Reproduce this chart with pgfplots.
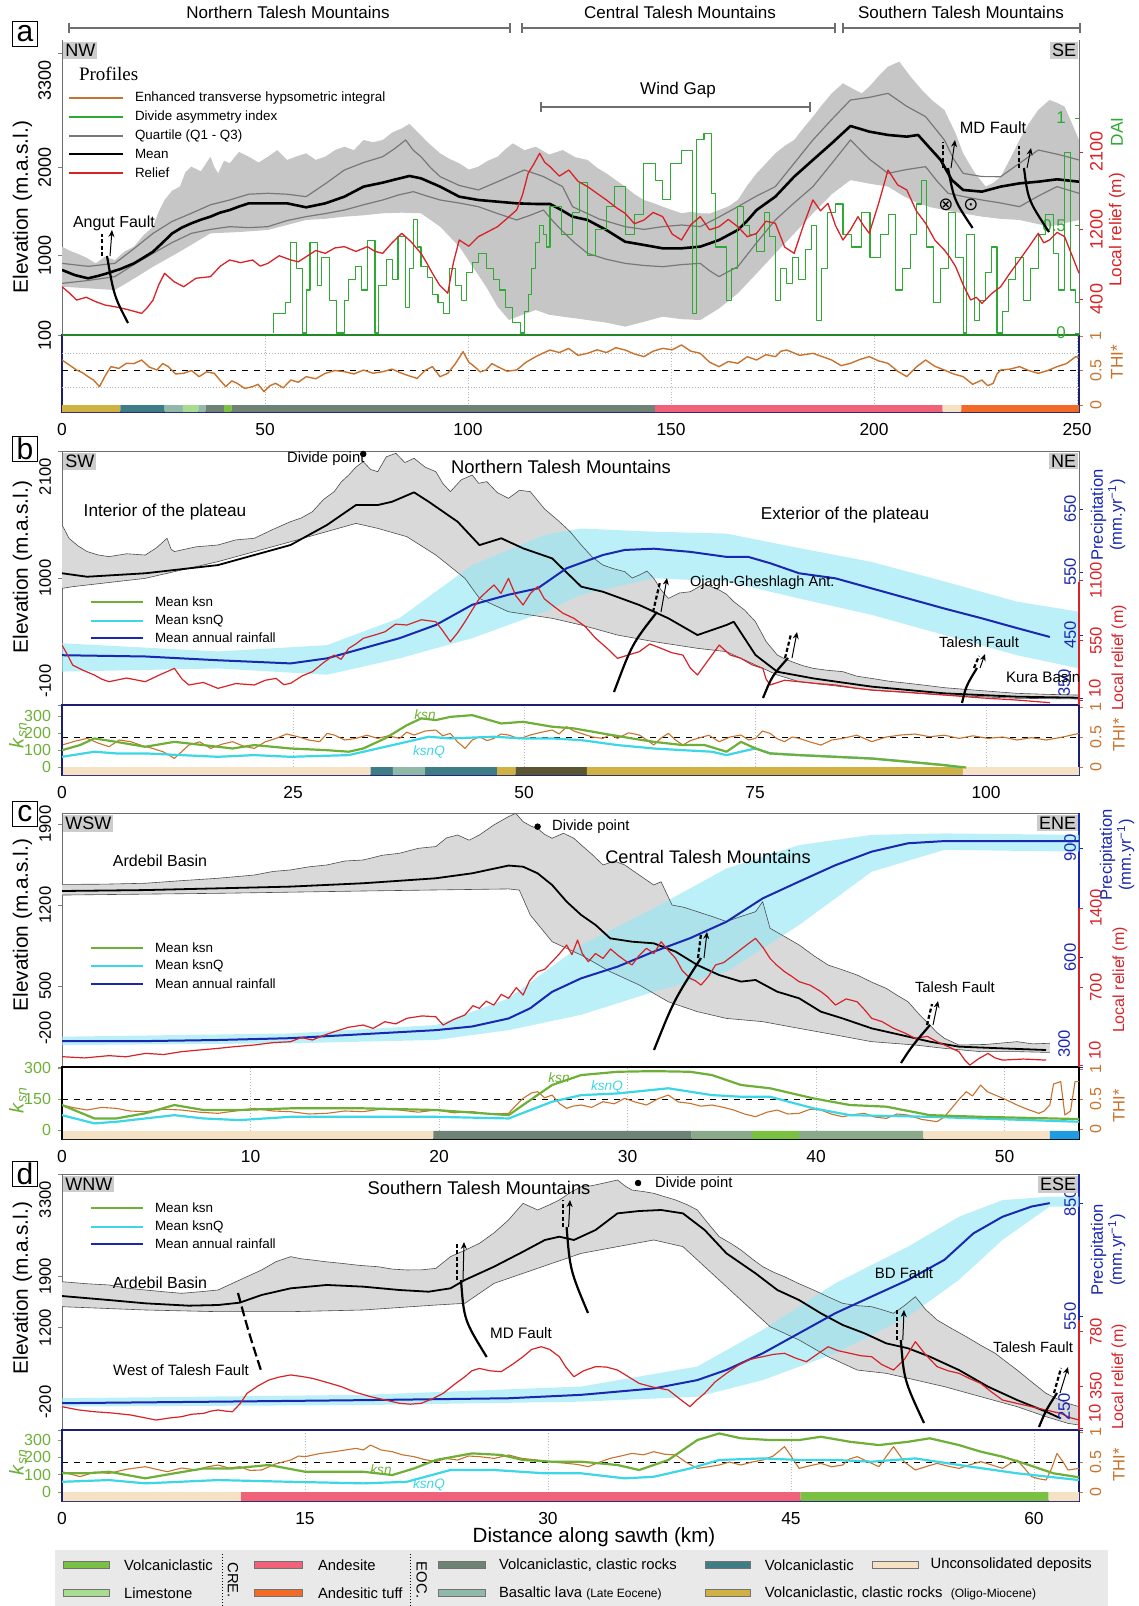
\documentclass[border=0pt]{standalone}
\usepackage{pgfplots}
\pgfplotsset{compat=1.18}
\usepgfplotslibrary{fillbetween}
\usetikzlibrary{arrows.meta}
\usepackage{fontspec}
\setmainfont{Liberation Sans}
\newfontfamily\seriffont{Liberation Serif}
\newfontfamily\symfont{DejaVu Sans}
\newcommand{\fs}[1]{\fontsize{#1}{#1}\selectfont}
\definecolor{relred}{RGB}{215,35,40}
\definecolor{daig}{RGB}{45,170,50}
\definecolor{thio}{RGB}{200,115,45}
\definecolor{precb}{RGB}{25,40,175}
\definecolor{bandc}{RGB}{150,232,245}
\definecolor{ksng}{RGB}{110,175,55}
\definecolor{ksnqc}{RGB}{60,215,230}
\definecolor{navy}{RGB}{30,30,110}
\definecolor{frame}{RGB}{110,110,110}
\definecolor{qgray}{RGB}{120,120,120}
\definecolor{geoVolcG}{RGB}{122,193,67}
\definecolor{geoLime}{RGB}{168,221,145}
\definecolor{geoAnd}{RGB}{240,98,122}
\definecolor{geoTuff}{RGB}{242,106,40}
\definecolor{geoEOC}{RGB}{110,130,118}
\definecolor{geoBas}{RGB}{145,185,170}
\definecolor{geoTeal}{RGB}{62,125,133}
\definecolor{geoOlig}{RGB}{208,178,68}
\definecolor{geoUnc}{RGB}{245,226,196}
\definecolor{geoMid}{RGB}{138,168,138}
\definecolor{geoOlive}{RGB}{90,86,50}
\definecolor{geoBlue}{RGB}{30,155,225}
\newcommand{\gbar}[5]{\addplot[draw=none, fill=#5, forget plot] coordinates {(#1,#3)(#2,#3)(#2,#4)(#1,#4)(#1,#3)};}
\pgfplotsset{
 P/.style={scale only axis, width=508.5pt, anchor=north west, xmin=0,
   tick align=outside, major tick length=2pt, tick style={line width=0.4pt},
   every axis plot/.append style={line join=round}},
 Sub/.style={axis line style={navy, line width=0.6pt}, xtick style={draw=none}, xmajorgrids,
   grid style={densely dotted, gray!55, line width=0.4pt}, xticklabel style={font=\fs{8.7}},
   ytick={0,0.5,1}, yticklabels={0,0.5,1}, ytick pos=right, yticklabel pos=right,
   yticklabel style={rotate=90, anchor=north, font=\fs{8}, text=thio}, ytick style={thio}},
 KS/.style={axis x line=none, axis y line*=left, y axis line style={navy, line width=0.6pt},
   yticklabel style={font=\fs{8}, text=ksng}, ytick style={ksng}},
}
\tikzset{flt/.style={line width=1.1pt, black},
 fltd/.style={line width=1.1pt, black, dash pattern=on 2pt off 1.2pt},
 fltar/.style={line width=0.5pt, black, -{Stealth[length=3.5pt,width=3pt]}}}
\begin{document}
\begin{tikzpicture}
%================ PANEL A : THI sub =================
\begin{axis}[P, Sub, at={(31pt,-167.5pt)}, height=38.5pt, xmax=250.49, ymin=-0.1014, ymax=1.0145,
 xtick={0,50,100,150,200,250}, xticklabels={0,50,100,150,200,250}]
\gbar{0}{14.4}{-0.1014}{0}{geoOlig}
\gbar{14.4}{25.3}{-0.1014}{0}{geoTeal}
\gbar{25.3}{29.8}{-0.1014}{0}{geoBas}
\gbar{29.8}{33.6}{-0.1014}{0}{geoLime}
\gbar{33.6}{35.4}{-0.1014}{0}{geoBas}
\gbar{35.4}{39.9}{-0.1014}{0}{geoEOC}
\gbar{39.9}{41.8}{-0.1014}{0}{geoVolcG}
\gbar{41.8}{146.1}{-0.1014}{0}{geoEOC}
\gbar{146.1}{216.9}{-0.1014}{0}{geoAnd}
\gbar{216.9}{221.5}{-0.1014}{0}{geoUnc}
\gbar{221.5}{250.49}{-0.1014}{0}{geoTuff}
\addplot[densely dotted, gray!60, line width=0.4pt] coordinates {(0,0.25)(250.49,0.25)};
\addplot[densely dotted, gray!60, line width=0.4pt] coordinates {(0,0.75)(250.49,0.75)};
\addplot[black, dashed, line width=0.4pt] coordinates {(0,0.5)(250.49,0.5)};
\addplot[thio, line width=0.7pt] coordinates {(0,0.652)(1.8,0.58)(3.58,0.507)(5,0.47)(6.41,0.411)(7.8,0.36)(9.24,0.266)(10.6,0.42)(12.07,0.556)(14,0.53)(15.84,0.604)(17.7,0.6)(19.61,0.652)(21.5,0.55)(23.38,0.507)(24.8,0.6)(26.2,0.556)(28,0.45)(29.97,0.459)(31.9,0.5)(33.75,0.411)(35.6,0.48)(37.52,0.459)(38.9,0.36)(40.34,0.266)(41.8,0.35)(43.17,0.314)(45,0.24)(46.94,0.266)(48.3,0.3)(49.77,0.193)(51.2,0.28)(52.6,0.314)(54.5,0.25)(56.37,0.362)(58.2,0.33)(60.14,0.411)(62.5,0.38)(64.85,0.459)(67.2,0.5)(69.56,0.483)(71.9,0.45)(74.28,0.507)(76.6,0.46)(78.99,0.483)(81.3,0.52)(83.7,0.459)(85.6,0.42)(87.47,0.386)(89.4,0.5)(91.24,0.556)(93.1,0.41)(95.01,0.459)(96.9,0.6)(98.78,0.773)(100.2,0.62)(101.61,0.556)(103,0.48)(104.44,0.507)(105.9,0.6)(107.27,0.556)(109.6,0.49)(111.98,0.507)(114.3,0.62)(116.69,0.701)(118.4,0.75)(120.2,0.797)(122.5,0.76)(124.8,0.82)(127.1,0.72)(129.45,0.749)(131.8,0.8)(134.08,0.76)(136.4,0.83)(138.7,0.797)(141,0.74)(143.33,0.701)(145.6,0.78)(147.95,0.821)(150.3,0.8)(152.58,0.87)(154.9,0.78)(157.2,0.749)(159.5,0.62)(161.83,0.556)(164.1,0.63)(166.45,0.604)(168.8,0.7)(171.08,0.652)(173.4,0.73)(175.7,0.701)(177.1,0.78)(178.48,0.797)(181.7,0.72)(184.95,0.749)(187.3,0.7)(189.58,0.652)(191.9,0.57)(194.2,0.604)(196.5,0.66)(198.83,0.701)(201.1,0.64)(203.45,0.604)(205.8,0.49)(208.08,0.411)(210.4,0.55)(212.7,0.652)(215,0.56)(217.33,0.507)(219.6,0.45)(221.95,0.411)(224.3,0.3)(226.58,0.362)(228,0.28)(229.35,0.314)(230.3,0.45)(231.2,0.507)(233.5,0.52)(235.83,0.556)(238.1,0.5)(240.45,0.459)(242.8,0.5)(245.08,0.556)(247.4,0.6)(249.7,0.701)(250.4,0.69)};
\end{axis}
%================ PANEL A : elevation =================
\begin{axis}[P, at={(31pt,-20pt)}, height=147.5pt, xmax=250.49, ymin=100, ymax=3452,
 axis x line=none, axis y line*=left, y axis line style={frame, line width=0.5pt},
 ytick={100,1000,2000,3300}, yticklabels={100,1000,2000,{}},
 yticklabel style={rotate=90, anchor=south, font=\fs{9}}]
\addplot[name path=aU, draw=none] coordinates {(0,1104)(1.8,1060)(3.58,1028)(6,980)(8.3,914)(10.6,990)(13.01,952)(15.4,1050)(17.72,1104)(20,1230)(22.43,1331)(23.8,1500)(25.26,1634)(27.1,1740)(29.03,1786)(30.4,1950)(31.86,2013)(34.2,1960)(36.57,2126)(37.5,2010)(38.46,1937)(39.9,2080)(41.29,2051)(43.6,2180)(46.0,2126)(48.4,2060)(50.71,2126)(53,2200)(55.43,2089)(57.8,2130)(60.14,2164)(62.5,2090)(64.85,2126)(67.2,2200)(69.56,2240)(71.9,2200)(74.28,2316)(76.6,2290)(78.99,2316)(81.3,2400)(83.7,2448)(85.6,2500)(87.47,2411)(90.3,2280)(93.13,2164)(95.5,2100)(97.84,2051)(100.2,1980)(102.56,2013)(104.9,2080)(107.27,2126)(109.2,2210)(111.04,2278)(113.9,2200)(116.69,2240)(120,2150)(123.3,2202)(126.4,2120)(129.45,2089)(131.8,2000)(134.08,1937)(136.4,1860)(138.7,1786)(141,1700)(143.33,1634)(145.6,1600)(147.95,1558)(150.3,1520)(152.58,1483)(154.9,1500)(157.2,1483)(159.5,1480)(161.83,1520)(164.1,1560)(166.45,1634)(168.8,1800)(171.08,1937)(173.4,2050)(175.7,2164)(178,2250)(180.33,2316)(182.6,2450)(184.95,2581)(187.3,2720)(189.58,2846)(192.35,2960)(194.7,2900)(196.98,2846)(198.83,2922)(201.1,3040)(203.45,3149)(206.23,3206)(209.0,3036)(211.78,2884)(214.5,2760)(217.33,2657)(220.1,2392)(221.95,2164)(224.7,1950)(227.5,1786)(229.4,1830)(231.2,1899)(233.5,2100)(235.83,2316)(238.1,2500)(240.45,2657)(243.2,2770)(245,2740)(246.93,2695)(248.8,2500)(250.49,2316)};
\addplot[name path=aL, draw=none] coordinates {(0,649)(6.5,630)(13.01,611)(17.7,740)(22.43,876)(29.5,1060)(36.57,1255)(43.6,1270)(50.71,1293)(55.4,1350)(60.14,1407)(64.85,1420)(69.56,1445)(74.3,1460)(78.99,1483)(83.7,1490)(88.42,1483)(93.13,1331)(97.84,1104)(101.1,880)(104.45,649)(107.3,420)(110.1,270)(113.4,330)(116.69,384)(120,330)(123.3,308)(126.4,290)(129.45,270)(134.1,240)(138.7,195)(143.3,250)(147.95,308)(152.6,280)(157.2,270)(161.8,400)(166.45,573)(171.1,800)(175.7,1028)(180.3,1250)(184.95,1483)(189.6,1700)(194.2,1861)(198.8,1820)(203.45,1786)(207.2,1680)(210.85,1596)(214.1,1550)(217.33,1520)(222,1480)(226.58,1445)(231.2,1420)(235.83,1407)(239.5,1370)(243.2,1331)(246.9,1370)(250.49,1407)};
\addplot[fill=gray!45, draw=none] fill between[of=aU and aL];
\addplot[qgray, line width=0.6pt] coordinates {(0,914)(6.5,880)(13.01,914)(17.7,1080)(22.43,1255)(27.1,1390)(31.86,1483)(36.6,1580)(41.29,1634)(46,1700)(50.71,1710)(55.4,1700)(60.14,1672)(64.9,1820)(69.56,1975)(74.3,2060)(78.99,2126)(82,2220)(84.65,2316)(86.5,2200)(88.42,2126)(90.8,2000)(93.13,1899)(97.8,1800)(102.56,1748)(108.2,1860)(113.87,1975)(118.6,1900)(123.3,1786)(125.75,1558)(132.2,1420)(138.7,1331)(143.3,1300)(147.95,1331)(152.6,1350)(157.2,1331)(161.8,1440)(166.45,1558)(171.1,1680)(175.7,1786)(180.3,2050)(184.95,2316)(189.6,2550)(194.2,2770)(198.8,2800)(203.45,2846)(208,2700)(212.7,2581)(215,2450)(217.33,2316)(219.6,2100)(221.95,1937)(226.6,1900)(231.2,1899)(235.8,2050)(240.45,2202)(245.5,2150)(250.49,2089)};
\addplot[qgray, line width=0.6pt] coordinates {(0,687)(6.5,720)(13.01,763)(17.7,900)(22.43,1028)(27.1,1150)(31.86,1255)(36.6,1300)(41.29,1331)(46,1320)(50.71,1331)(55.4,1400)(60.14,1445)(64.9,1480)(69.56,1520)(74.3,1580)(78.99,1634)(82.8,1690)(86.53,1729)(89.8,1680)(93.13,1634)(97.8,1600)(102.56,1558)(107.3,1480)(111.98,1407)(115.3,1460)(118.58,1520)(120.8,1400)(122.98,1293)(126.2,1150)(129.45,1028)(134.1,960)(138.7,914)(143.3,890)(147.95,876)(152.6,900)(157.2,914)(159.5,830)(161.83,763)(164.1,820)(166.45,876)(171.1,1150)(175.7,1407)(180.3,1600)(184.95,1786)(189.6,2050)(194.2,2316)(198.8,2100)(203.45,1937)(208,1980)(212.7,2013)(215.5,1850)(218.25,1710)(222.4,1670)(226.58,1634)(231.2,1600)(235.83,1558)(240.5,1680)(245.08,1786)(250.49,1710)};
\addplot[black, line width=1.3pt] coordinates {(0,839)(3.2,780)(6.41,744)(8.8,770)(11.12,801)(14.4,850)(17.72,914)(20.1,980)(22.43,1047)(24.8,1150)(27.15,1255)(29.5,1320)(31.86,1369)(34.2,1410)(36.57,1445)(38.9,1490)(41.29,1520)(43.6,1560)(46.0,1596)(50.71,1596)(55.43,1596)(60.14,1551)(64.85,1596)(69.56,1672)(74.28,1786)(78.99,1831)(82.3,1870)(85.59,1907)(88.42,1880)(93.13,1786)(97.84,1672)(102.56,1634)(107.27,1615)(111.98,1596)(116.69,1589)(120.2,1589)(123,1520)(125.75,1445)(129.45,1407)(134.08,1293)(138.7,1160)(143.33,1123)(147.95,1085)(152.58,1085)(157.2,1104)(161.83,1179)(166.45,1293)(168.8,1400)(171.08,1520)(175.7,1672)(180.33,1899)(184.95,2089)(189.58,2278)(194.2,2475)(198.83,2411)(203.45,2373)(208.08,2354)(210.85,2373)(212.7,2278)(216.4,2089)(219.17,1861)(221.95,1748)(226.58,1729)(231.2,1786)(235.83,1823)(240.45,1842)(245.08,1869)(250.49,1842)};
\end{axis}
%================ PANEL A : DAI =================
\begin{axis}[P, at={(31pt,-20pt)}, height=147.5pt, xmax=250.49, ymin=-0.0093, ymax=1.363,
 axis x line*=bottom, x axis line style={daig!80!black, line width=0.8pt}, xtick=\empty,
 axis y line*=right, y axis line style={frame, line width=0.5pt}, ytick={0,0.5,1}, yticklabels={0,0.5,1},
 yticklabel style={font=\fs{8.5}, text=daig, anchor=east, xshift=-3pt}, ytick style={daig}, tick align=inside]
\addplot[const plot, daig, line width=0.55pt] coordinates {(52.13,0)(52.13,0.09)(54.96,0.14)(56.37,0.42)(57.8,0.3)(59.2,0)(60.2,0.2)(61.08,0.42)(62.97,0.22)(63.9,0.35)(65.8,0.15)(67.68,0)(69.56,0.15)(70.5,0.25)(72.39,0.31)(73.8,0.2)(75.22,0.43)(77.1,0)(78.05,0.22)(79.93,0.34)(81.3,0.25)(82.76,0.45)(84.65,0.12)(85.6,0.3)(86.53,0.53)(87.5,0.4)(88.42,0.31)(90,0.26)(91.24,0.18)(92.6,0.14)(94.07,0.09)(95.5,0.3)(96.9,0.22)(98.3,0.15)(99.73,0.28)(101,0.33)(102.56,0.37)(104.5,0.3)(106.33,0.25)(107.7,0.2)(109.15,0.12)(110.9,0.05)(112.92,0)(113.9,0.1)(114.81,0.18)(115.7,0.3)(116.69,0.42)(117.6,0.5)(118.58,0.46)(119.4,0.4)(120.2,0.59)(122.98,0.46)(125.75,0.56)(127.5,0.7)(129.45,0.36)(131.5,0.48)(134.08,0.59)(136,0.68)(138.7,0.46)(141,0.55)(143.33,0.79)(146.1,0.71)(148,0.62)(149.8,0.79)(152.58,0.85)(155.35,0.09)(156.28,0.9)(158.13,0.93)(159.98,0.65)(161,0.4)(163.68,0.15)(164.9,0.3)(166.45,0.59)(167.8,0.5)(169.23,0.46)(171,0.38)(172.93,0.56)(174.3,0.45)(175.7,0.15)(177,0.3)(178.48,0.23)(180,0.35)(181.5,0.25)(183.1,0.39)(184.5,0.5)(185.88,0.06)(187,0.3)(188.65,0.56)(190.5,0.6)(192.35,0.46)(194.5,0.4)(196.98,0.56)(199,0.35)(201.6,0.46)(203.5,0.55)(205.3,0.2)(207,0.3)(209.0,0.46)(210.4,0.6)(211.78,0.71)(213,0.4)(214.55,0.14)(216.3,0.3)(218.25,0.56)(220,0.35)(221.95,0)(222.88,0.46)(224.73,0.06)(226,0.15)(227.5,0.28)(228.9,0.4)(230.28,0)(231.6,0.1)(233.05,0.25)(234.9,0.35)(236.75,0.15)(238.6,0.3)(240.45,0.46)(242.3,0.55)(244.15,0.37)(245.5,0.2)(246.93,0.84)(248.3,0.2)(249.7,0.14)(250.49,0.14)};
\end{axis}
%================ PANEL A : relief =================
\begin{axis}[P, at={(31pt,-20pt)}, height=147.5pt, xmax=250.49, ymin=-16.2, ymax=3394,
 axis x line=none, axis y line*=right, y axis line style={frame, line width=0.5pt},
 ytick={400,1200,2100}, yticklabels={400,1200,2100},
 yticklabel style={rotate=90, anchor=north, font=\fs{9}, text=relred}, ytick style={relred}]
\addplot[relred, line width=0.65pt] coordinates {(0,542)(1.8,470)(3.58,388)(6,420)(8.3,369)(10.6,330)(13.01,311)(16,280)(19.61,234)(21,300)(22.43,388)(23.8,560)(25.26,697)(27.6,600)(29.97,542)(33,640)(36.57,658)(39,780)(41.29,851)(44,820)(46.94,851)(48.8,780)(50.71,812)(53.5,900)(56.37,851)(58.2,830)(60.14,889)(62.5,960)(64.85,928)(67.2,990)(69.56,1005)(72.4,950)(75.22,1005)(77.1,950)(78.99,928)(81.3,1050)(83.7,1159)(86,1060)(88.42,928)(89.8,820)(91.24,697)(93,560)(95.01,466)(96.4,820)(97.84,1082)(100.2,1010)(102.56,1121)(105,1180)(107.27,1236)(109.6,1330)(111.98,1429)(113.4,1600)(114.81,1853)(116.2,1960)(117.64,2084)(118.9,1980)(120.2,1930)(122.5,1820)(124.83,1891)(127.1,1760)(129.45,1699)(131.8,1620)(134.08,1545)(136.4,1460)(138.7,1390)(141,1270)(143.33,1313)(145.6,1400)(147.95,1352)(150.3,1150)(152.58,1082)(154.9,1260)(157.2,1352)(159.5,1200)(161.83,1236)(164.1,1320)(166.45,1236)(168.8,1120)(171.08,1159)(173.4,1300)(175.7,1275)(178,1000)(180.33,928)(182.6,1250)(184.95,1545)(186.8,1420)(188.65,1506)(190.5,1250)(192.35,1082)(194.2,1200)(196.05,1352)(197.4,1250)(198.83,1159)(201.1,1500)(203.45,1891)(205.8,1720)(208.08,1660)(210.4,1420)(212.7,1275)(215,1080)(217.33,966)(218.7,880)(220.1,774)(222,560)(223.8,388)(225.2,420)(226.58,350)(228.9,460)(231.2,542)(233.5,700)(235.83,851)(238.1,1000)(240.45,1159)(241.8,1050)(243.2,1082)(245.1,1170)(246.93,1121)(248.8,900)(250.49,697)};
\end{axis}
%================ PANEL B : elevation =================
\begin{axis}[P, at={(31pt,-225.5pt)}, height=127pt, xmax=110.06, ymin=-100, ymax=2100,
 axis line style={frame, line width=0.5pt}, xtick=\empty, ytick={-100,1000,2100}, yticklabels={{},1000,{}}, ytick pos=left,
 yticklabel style={rotate=90, anchor=south, font=\fs{8.3}}]
\addplot[name path=bU, gray!60!black, line width=0.3pt] coordinates {(0,1459)(0.4,1400)(0.76,1344)(1.7,1280)(2.72,1229)(3.9,1200)(5.08,1185)(7,1210)(9.01,1199)(10.2,1260)(11.37,1344)(11.8,1250)(12.16,1229)(14.5,1270)(16.88,1286)(18.8,1330)(20.81,1344)(22.8,1420)(24.74,1488)(25.9,1520)(27.1,1574)(28.3,1680)(29.46,1748)(30.2,1830)(31.03,1892)(31.8,1960)(32.6,2008)(33.4,1940)(34.17,1921)(35.1,2050)(36.14,2080)(37.1,2000)(38.1,2037)(39.3,1960)(40.46,1921)(41.2,1820)(42.03,1748)(43.2,1850)(44.39,1892)(45.1,1820)(45.97,1835)(47.1,1740)(48.32,1690)(49.5,1760)(50.68,1748)(52.2,1600)(53.83,1488)(55,1400)(56.19,1286)(57.4,1180)(58.54,1112)(59.7,1080)(60.9,1055)(61.7,1000)(62.48,1026)(63.3,1060)(64.05,997)(64.8,900)(65.62,823)(66.8,870)(67.98,881)(69.5,950)(71.12,896)(71.9,860)(72.7,795)(73.9,720)(75.05,621)(76.2,450)(77.41,333)(78.2,300)(78.99,275)(80.2,240)(81.34,217)(82.9,200)(84.49,189)(86,150)(87.63,130)(89.6,105)(91.57,88)(93.5,70)(95.5,50)(99.4,25)(103.36,1)(106.7,-8)(110.06,-14)};
\addplot[name path=bL, gray!60!black, line width=0.3pt] coordinates {(0,910)(1.15,925)(9.01,997)(16.88,1142)(24.74,1314)(31.81,1473)(34.17,1430)(37.32,1358)(40.46,1199)(43.61,997)(45.18,823)(48.32,708)(53.04,651)(56.19,593)(60.12,506)(64.05,449)(68.77,391)(71.91,362)(75.05,247)(77.41,160)(79.77,102)(87.63,29)(95.5,-14)(103.36,-42)(110.06,-48)};
\addplot[fill=gray!30, draw=none] fill between[of=bU and bL];
\addplot[black, line width=0.9pt] coordinates {(0,1041)(2.72,1011)(9.01,1041)(16.88,1112)(24.74,1286)(28.67,1459)(31.81,1632)(34.17,1632)(35.74,1661)(38.1,1742)(39.68,1661)(42.82,1487)(45.18,1285)(47.54,1344)(49.9,1257)(53.04,1170)(56.19,925)(58.54,881)(62.48,766)(65.62,651)(68.77,506)(71.91,593)(72.7,621)(75.05,333)(77.41,188)(81.34,130)(87.63,59)(95.5,1)(103.36,-28)(110.06,-37)};
\addplot[only marks, mark=*, mark size=1.4pt, black] coordinates {(32.6,2074)};
\end{axis}
%================ PANEL B : precipitation =================
\begin{axis}[P, at={(31pt,-225.5pt)}, height=127pt, xmax=110.06, ymin=339, ymax=742,
 axis x line=none, axis y line*=right, y axis line style={frame, line width=0.5pt},
 ytick={350,450,550,650}, yticklabels={{},450,550,650}, ytick style={precb},
 yticklabel style={rotate=90, anchor=south, font=\fs{8.3}, text=precb}]
\addplot[name path=pbU, draw=none] coordinates {(0,437)(16.88,424)(28.67,434)(36.53,477)(44.39,561)(52.25,609)(56.19,619)(64.05,614)(71.91,611)(79.77,588)(87.63,566)(95.5,535)(103.36,503)(110.06,487)};
\addplot[name path=pbL, draw=none] coordinates {(0,392)(16.88,397)(28.67,387)(36.53,413)(44.39,445)(52.25,487)(56.19,514)(64.05,540)(71.91,535)(79.77,508)(87.63,482)(95.5,450)(103.36,418)(110.06,397)};
\addplot[fill=bandc, fill opacity=0.65, draw=none] fill between[of=pbU and pbL];
\addplot[precb, line width=1pt] coordinates {(0,418)(9.01,416)(16.88,410)(24.74,405)(28.67,413)(32.6,429)(36.53,445)(40.46,466)(44.39,498)(48.32,514)(51.47,524)(54.61,556)(58.54,577)(60.9,585)(64.05,587)(67.98,582)(71.91,574)(74.27,574)(76.63,564)(79.77,548)(83.7,540)(87.63,524)(91.57,508)(95.5,492)(99.43,477)(103.36,461)(106.9,447)};
\end{axis}
%================ PANEL B : relief =================
\begin{axis}[P, at={(31pt,-225.5pt)}, height=127pt, xmax=110.06, ymin=-35, ymax=2274,
 axis x line=none, axis y line*=right, y axis line style={draw=none},
 ytick={10,550,1100}, yticklabels={{},550,1100}, ytick style={relred},
 yticklabel style={rotate=90, anchor=north, font=\fs{8.3}, text=relred}]
\addplot[relred, line width=0.6pt] coordinates {(0,510)(0.6,420)(1.15,328)(2.3,280)(3.51,237)(4.3,200)(5.08,177)(7,210)(9.01,177)(10.6,240)(12.16,298)(13,200)(13.73,147)(15.3,170)(16.88,116)(18.8,160)(20.81,147)(22,190)(23.17,207)(24,150)(24.74,162)(26,230)(27.1,268)(28.3,350)(29.46,419)(30.2,380)(31.03,480)(31.8,520)(32.6,571)(33.8,600)(34.96,631)(36.1,700)(37.32,692)(38.9,740)(40.46,722)(41.2,640)(42.03,540)(42.8,620)(43.61,722)(44.4,830)(45.18,934)(46,1000)(46.75,1056)(47.5,980)(48.32,1116)(49.1,960)(49.9,874)(50.7,980)(51.47,1041)(52.2,930)(53.04,874)(54.2,800)(55.4,753)(56.6,680)(57.76,571)(59,480)(60.12,389)(61.3,420)(62.48,450)(63.6,520)(64.83,480)(66,440)(67.19,419)(68,300)(68.77,238)(70,380)(71.12,510)(72.3,420)(73.48,389)(74.7,330)(75.84,298)(76.2,200)(76.63,147)(78.2,190)(79.77,177)(81.7,160)(83.7,147)(85.7,120)(87.63,101)(91.5,80)(95.5,56)(99.4,30)(103.36,10)(106.9,-14)};
\end{axis}
%================ PANEL B : sub =================
\begin{axis}[P, Sub, at={(31pt,-352.5pt)}, height=35pt, xmax=110.06, ymin=-0.133, ymax=1.033,
 xtick={0,25,50,75,100}, xticklabels={0,25,50,75,100}]
\gbar{0}{33.4}{-0.133}{0}{geoUnc}
\gbar{33.4}{35.8}{-0.133}{0}{geoTeal}
\gbar{35.8}{39.3}{-0.133}{0}{geoBas}
\gbar{39.3}{47.1}{-0.133}{0}{geoTeal}
\gbar{47.1}{49.1}{-0.133}{0}{geoOlig}
\gbar{49.1}{56.8}{-0.133}{0}{geoOlive}
\gbar{56.8}{97.5}{-0.133}{0}{geoOlig}
\gbar{97.5}{110.06}{-0.133}{0}{geoUnc}
\addplot[black, dashed, line width=0.4pt] coordinates {(0,0.5)(110.06,0.5)};
\addplot[thio, line width=0.55pt] coordinates {(0,0.366)(1.4,0.43)(2.72,0.477)(3.9,0.4)(5.08,0.338)(6.2,0.45)(7.44,0.422)(8.6,0.36)(9.8,0.31)(11,0.25)(12.16,0.144)(13.73,0.366)(14.9,0.42)(16.09,0.31)(17.3,0.38)(18.45,0.422)(19.6,0.35)(20.81,0.31)(22,0.42)(23.17,0.477)(24.3,0.55)(25.52,0.505)(26.7,0.45)(27.88,0.422)(28.7,0.56)(29.46,0.533)(30.6,0.45)(31.81,0.477)(33,0.53)(34.17,0.477)(35.3,0.52)(36.53,0.477)(37.3,0.58)(38.1,0.533)(39.3,0.6)(40.46,0.616)(41.2,0.52)(42.03,0.56)(42.8,0.42)(43.61,0.31)(44.4,0.45)(45.18,0.505)(46,0.44)(46.75,0.477)(47.5,0.55)(48.32,0.533)(49.5,0.47)(50.68,0.533)(51.9,0.58)(53.04,0.616)(53.8,0.55)(54.61,0.672)(55.4,0.6)(56.19,0.56)(57.4,0.5)(58.54,0.477)(59.3,0.54)(60.12,0.477)(61.3,0.57)(62.48,0.533)(63.3,0.45)(64.05,0.366)(64.8,0.48)(65.62,0.56)(66.4,0.45)(67.19,0.366)(68,0.44)(68.77,0.477)(70,0.53)(71.12,0.422)(72.3,0.5)(73.48,0.533)(74.3,0.45)(75.05,0.477)(75.8,0.6)(76.63,0.56)(77.4,0.47)(78.2,0.422)(79,0.5)(79.77,0.477)(80.9,0.42)(82.13,0.366)(83.3,0.45)(84.49,0.477)(86,0.53)(87.63,0.422)(89.2,0.5)(90.78,0.533)(92.3,0.55)(93.92,0.505)(95.5,0.53)(97.07,0.477)(98.6,0.52)(100.21,0.477)(101.8,0.5)(103.36,0.45)(104.9,0.49)(106.5,0.45)(108.3,0.5)(110.06,0.56)};
\end{axis}
\begin{axis}[P, KS, at={(31pt,-352.5pt)}, height=35pt, xmax=110.06, ymin=-47, ymax=364.7,
 ytick={0,100,200,300}, yticklabels={0,100,200,300}]
\addplot[ksnqc, line width=1.1pt] coordinates {(0,60)(3.51,90)(5.87,80)(9.01,80)(12.94,70)(16.88,60)(20.81,70)(24.74,60)(31.03,70)(34.17,109)(37.32,148)(39.68,178)(42.03,168)(46.75,178)(49.9,168)(53.04,168)(56.19,158)(60.12,129)(64.05,109)(67.19,99)(70.34,90)(71.91,70)(73.48,90)(75.05,109)(76.63,80)(79.77,70)(83.7,60)(87.63,50)(91.57,31)(95.5,11)(97.07,-3)};
\addplot[ksng, line width=1.1pt] coordinates {(0,99)(1.94,129)(3.51,168)(5.87,148)(9.01,119)(12.16,148)(15.3,129)(18.45,109)(20.81,129)(24.74,109)(28.67,99)(31.03,90)(32.6,109)(34.96,168)(37.32,246)(38.89,286)(40.46,276)(42.03,295)(44.39,305)(47.54,256)(49.9,266)(53.04,237)(55.4,227)(58.54,197)(61.69,168)(64.05,148)(67.19,129)(69.55,129)(71.91,90)(73.48,148)(75.05,109)(76.63,80)(79.77,70)(83.7,60)(87.63,50)(91.57,31)(95.5,11)(97.85,-3)};
\end{axis}
%================ PANEL C : elevation =================
\begin{axis}[P, at={(31pt,-406.5pt)}, height=127pt, xmax=53.95, ymin=-200, ymax=1995,
 axis line style={frame, line width=0.5pt}, xtick=\empty, ytick={-200,500,1200,1900}, yticklabels={{},500,1200,1900}, ytick pos=left,
 yticklabel style={rotate=90, anchor=south, font=\fs{8.3}}]
\addplot[name path=cU, gray!60!black, line width=0.3pt] coordinates {(0,1378)(2.2,1380)(4.42,1388)(6.3,1410)(8.27,1431)(10.2,1459)(11.2,1490)(12.12,1503)(13.1,1530)(14.05,1546)(15,1580)(15.98,1589)(17,1630)(17.9,1647)(18.9,1690)(19.83,1705)(20.4,1780)(20.99,1805)(21.6,1760)(22.14,1805)(22.91,1892)(23.69,1964)(24.07,1992)(24.46,1920)(24.9,1880)(25.23,1862)(25.6,1810)(26.0,1777)(26.6,1820)(27.15,1777)(27.54,1719)(28.1,1640)(28.7,1546)(29.3,1580)(29.85,1546)(30.62,1459)(31.39,1373)(31.78,1401)(32.36,1200)(33,1180)(33.71,1142)(34.5,1100)(35.25,1057)(36,1100)(36.79,1142)(37.17,1229)(37.56,999)(38.3,930)(39.1,855)(39.9,760)(40.64,681)(41.4,640)(42.18,595)(43,530)(43.73,479)(44.3,420)(44.88,364)(45.5,250)(46.04,163)(46.4,100)(46.81,48)(47.58,-10)(49,-5)(50.66,19)(51.5,0)(52.4,5)};
\addplot[name path=cL, gray!60!black, line width=0.3pt] coordinates {(0,1286)(8.27,1301)(15.98,1321)(23.69,1339)(24.26,1329)(24.84,1114)(26.0,883)(27.54,768)(29.08,624)(30.62,509)(32.16,364)(33.71,278)(35.25,220)(37.17,192)(39.1,134)(41.03,77)(42.95,19)(45.27,-10)(46.81,-39)(48.73,-67)(50.66,-67)(52.4,-74)};
\addplot[fill=gray!30, draw=none] fill between[of=cU and cL];
\addplot[black, line width=0.9pt] coordinates {(0,1321)(4.42,1329)(8.27,1344)(12.12,1359)(15.98,1388)(19.83,1431)(21.76,1474)(23.69,1541)(24.46,1531)(25.23,1474)(26.0,1373)(26.77,1229)(27.54,1114)(28.31,1027)(29.08,912)(30.24,883)(31.39,869)(32.55,797)(33.71,681)(34.86,595)(36.02,538)(36.79,552)(37.94,451)(39.1,394)(40.26,278)(41.41,220)(42.95,134)(44.5,77)(46.04,19)(47.58,-24)(49.89,-39)(52.2,-53)};
\addplot[only marks, mark=*, mark size=1.4pt, black] coordinates {(25.23,1877)};
\end{axis}
\begin{axis}[P, at={(31pt,-406.5pt)}, height=127pt, xmax=53.95, ymin=300, ymax=995.9,
 axis x line=none, axis y line*=right, y axis line style={precb, line width=0.6pt},
 ytick={300,600,900}, yticklabels={{},600,900}, ytick style={precb},
 yticklabel style={rotate=90, anchor=south, font=\fs{8.3}, text=precb}]
\addplot[name path=pcU, draw=none] coordinates {(0,383)(12.12,392)(19.83,415)(23.69,488)(27.54,634)(31.39,735)(35.25,844)(39.1,908)(42.95,936)(46.81,940)(53.95,936)};
\addplot[name path=pcL, draw=none] coordinates {(0,360)(12.12,365)(19.83,374)(23.69,401)(27.54,443)(31.39,506)(35.25,561)(39.1,689)(42.95,835)(46.81,895)(53.95,890)};
\addplot[fill=bandc, fill opacity=0.65, draw=none] fill between[of=pcU and pcL];
\addplot[precb, line width=1pt] coordinates {(0,371)(4.42,371)(8.27,374)(12.12,379)(15.98,390)(19.83,401)(21.76,411)(23.69,433)(24.84,461)(26.0,506)(27.54,543)(29.47,575)(31.39,616)(33.32,653)(35.25,698)(37.17,762)(39.1,808)(41.03,853)(42.95,890)(44.88,913)(46.81,919)(53.95,919)};
\end{axis}
\begin{axis}[P, at={(31pt,-406.5pt)}, height=127pt, xmax=53.95, ymin=0, ymax=2238,
 axis x line=none, axis y line*=right, y axis line style={draw=none},
 ytick={10,700,1400}, yticklabels={{},700,1400}, ytick style={relred},
 yticklabel style={rotate=90, anchor=north, font=\fs{8.3}, text=relred}]
\addplot[relred, line width=0.6pt] coordinates {(0,91)(1.2,80)(2.49,100)(3.4,90)(4.42,120)(5.4,110)(6.34,135)(7.3,150)(8.27,164)(9.2,180)(10.2,194)(11.2,215)(12.12,223)(12.7,260)(13.28,238)(13.9,280)(14.44,311)(15.2,350)(15.98,370)(16.5,340)(17.13,399)(17.7,380)(18.29,429)(19.1,450)(19.83,443)(20.22,370)(20.8,420)(21.37,458)(21.8,540)(22.14,517)(22.5,580)(22.91,546)(23.3,640)(23.69,605)(24.1,700)(24.46,634)(24.8,760)(25.23,840)(25.6,860)(26.0,928)(26.4,1000)(26.77,1075)(27.05,990)(27.35,1119)(27.6,1000)(27.92,928)(28.3,1000)(28.7,957)(29.1,1040)(29.47,987)(29.85,940)(30.24,899)(30.6,980)(31.01,1046)(31.4,1000)(31.78,1104)(32.2,1020)(32.55,957)(32.9,850)(33.32,781)(33.6,760)(33.9,722)(34.3,800)(34.67,899)(35.1,920)(35.63,987)(36.2,1060)(36.79,1134)(37.2,1050)(37.56,957)(37.9,900)(38.33,840)(38.7,800)(39.1,752)(39.7,720)(40.26,664)(40.6,620)(41.03,546)(41.6,600)(42.18,575)(42.6,500)(42.95,429)(43.5,400)(44.11,341)(44.7,300)(45.27,252)(45.9,270)(46.42,223)(47,180)(47.58,135)(47.9,60)(48.16,17)(48.6,70)(49.12,120)(49.5,80)(49.89,61)(51,70)(52.2,61)};
\end{axis}
%================ PANEL C : sub =================
\begin{axis}[P, Sub, at={(31pt,-533.5pt)}, height=36pt, xmax=53.95, ymin=-0.167, ymax=1.033,
 axis line style={black, line width=0.7pt},
 xtick={0,10,20,30,40,50}, xticklabels={0,10,20,30,40,50}]
\gbar{0}{19.7}{-0.167}{-0.033}{geoUnc}
\gbar{19.7}{33.4}{-0.167}{-0.033}{geoEOC}
\gbar{33.4}{36.6}{-0.167}{-0.033}{geoMid}
\gbar{36.6}{39.1}{-0.167}{-0.033}{geoVolcG}
\gbar{39.1}{45.7}{-0.167}{-0.033}{geoMid}
\gbar{45.7}{52.4}{-0.167}{-0.033}{geoUnc}
\gbar{52.4}{53.95}{-0.167}{-0.033}{geoBlue}
\addplot[black, dashed, line width=0.4pt] coordinates {(0,0.5)(53.95,0.5)};
\addplot[thio, line width=0.55pt] coordinates {(0,0.40)(0.7,0.35)(1.33,0.316)(2.1,0.36)(2.88,0.344)(3.6,0.3)(4.42,0.289)(5.4,0.33)(6.34,0.316)(7.3,0.28)(8.27,0.261)(9.2,0.3)(10.2,0.344)(11.2,0.3)(12.12,0.289)(13.1,0.25)(14.05,0.261)(15,0.3)(15.98,0.289)(16.9,0.33)(17.9,0.316)(18.9,0.28)(19.83,0.316)(20.8,0.27)(21.76,0.289)(22.7,0.25)(23.69,0.261)(24.1,0.4)(24.46,0.511)(24.9,0.6)(25.23,0.622)(25.6,0.52)(26.0,0.566)(26.4,0.42)(26.77,0.344)(27.1,0.38)(27.54,0.40)(28.1,0.36)(28.7,0.455)(29.3,0.42)(29.85,0.511)(30.4,0.45)(31.01,0.40)(31.6,0.5)(32.16,0.566)(32.7,0.45)(33.32,0.427)(33.9,0.38)(34.48,0.40)(35.1,0.36)(35.63,0.316)(36.2,0.25)(36.79,0.205)(37.4,0.28)(37.94,0.316)(38.5,0.25)(39.1,0.261)(39.7,0.33)(40.26,0.316)(40.8,0.25)(41.41,0.205)(42,0.24)(42.57,0.261)(43.1,0.2)(43.73,0.177)(44.3,0.25)(44.88,0.233)(45.6,0.16)(46.42,0.122)(46.8,0.2)(47.19,0.344)(47.6,0.5)(47.97,0.622)(48.3,0.55)(48.73,0.733)(49.1,0.62)(49.5,0.566)(50,0.5)(50.66,0.40)(51.2,0.33)(51.82,0.261)(52.1,0.3)(52.4,0.40)(52.6,0.75)(52.98,0.789)(53.2,0.233)(53.5,0.3)(53.74,0.789)(53.95,0.789)};
\end{axis}
\begin{axis}[P, KS, at={(31pt,-533.5pt)}, height=36pt, xmax=53.95, ymin=-43.5, ymax=305,
 y axis line style={black, line width=0.7pt}, ytick={0,150,300}, yticklabels={0,150,300}]
\addplot[ksnqc, line width=1.1pt] coordinates {(0,72)(1.72,32)(2.88,40)(5.96,72)(7.5,56)(9.43,48)(12.12,64)(15.98,64)(19.83,64)(23.69,56)(26.0,137)(27.54,169)(29.47,177)(32.16,202)(34.48,169)(36.02,161)(37.56,161)(39.87,105)(41.8,72)(46.04,64)(53.95,40)};
\addplot[ksng, line width=1.1pt] coordinates {(0,121)(1.72,56)(2.88,56)(4.42,81)(5.96,121)(7.5,97)(9.43,97)(12.12,105)(15.98,105)(19.83,97)(23.69,72)(24.46,121)(26.0,218)(27.54,266)(29.47,282)(31.39,285)(33.32,282)(34.48,266)(36.02,218)(37.56,202)(39.87,153)(41.8,121)(43.73,113)(46.04,72)(48.73,64)(53.95,53)};
\end{axis}
%================ PANEL D : elevation =================
\begin{axis}[P, at={(31pt,-587pt)}, height=128pt, xmax=62.78, ymin=-200, ymax=3300,
 axis line style={frame, line width=0.5pt}, xtick=\empty, ytick={-200,1200,1900,3300}, yticklabels={{},1200,1900,{}}, ytick pos=left,
 yticklabel style={rotate=90, anchor=south, font=\fs{8.3}}]
\addplot[name path=dU, gray!60!black, line width=0.3pt] coordinates {(0,1828)(1.5,1800)(2.9,1783)(4,1740)(5.14,1714)(6.3,1690)(7.38,1669)(8.5,1690)(9.63,1714)(10.97,1851)(12.32,1988)(13.2,2100)(14.11,2170)(14.8,2140)(15.46,2124)(16.3,2100)(17.25,2079)(18.4,2050)(19.49,2033)(20.4,2000)(21.28,1988)(22.2,1990)(23.08,2010)(23.98,2170)(24.9,2260)(25.77,2352)(26.7,2500)(27.56,2671)(28.46,2899)(29.36,2808)(30.1,2880)(30.7,2945)(31.4,3050)(32.05,3127)(32.7,3140)(33.39,3173)(34.29,3218)(34.8,3130)(35.19,3081)(35.9,3060)(36.53,3036)(37.2,2990)(37.88,2945)(38.6,2880)(39.22,2808)(39.9,2620)(40.57,2443)(41.3,2350)(41.91,2261)(42.6,2140)(43.26,2033)(43.9,1960)(44.6,1896)(45.5,1800)(46.4,1714)(47.3,1620)(48.19,1532)(49.1,1500)(49.98,1486)(50.7,1440)(51.33,1395)(52,1500)(52.68,1623)(53.3,1450)(54.02,1304)(54.9,1190)(55.82,1076)(56.7,960)(57.61,848)(58.3,730)(58.96,620)(59.9,450)(60.75,301)(61.4,230)(62.1,165)(62.78,119)};
\addplot[name path=dL, gray!60!black, line width=0.3pt] coordinates {(0,1486)(5.14,1441)(9.63,1418)(14.11,1418)(18.59,1441)(23.08,1509)(24.87,1532)(26.67,1805)(28.46,1942)(30.25,2079)(32.05,2215)(34.29,2307)(36.53,2398)(38.33,2307)(40.12,1942)(41.91,1577)(43.71,1213)(45.5,1031)(47.29,803)(49.09,620)(50.88,575)(52.68,484)(54.47,393)(56.71,256)(58.96,119)(60.75,-18)(62.1,-109)(62.78,-132)};
\addplot[fill=gray!30, draw=none] fill between[of=dU and dL];
\addplot[black, line width=0.9pt] coordinates {(0,1632)(2.9,1577)(5.14,1532)(7.83,1500)(9.63,1509)(10.97,1541)(12.32,1646)(14.11,1737)(16.35,1783)(18.59,1760)(20.84,1714)(22.63,1691)(23.98,1737)(24.87,1851)(26.67,2033)(28.46,2238)(29.81,2398)(30.7,2443)(31.6,2398)(32.94,2535)(34.29,2762)(35.63,2794)(36.98,2808)(38.33,2762)(39.67,2535)(41.02,2215)(42.81,1942)(44.16,1714)(45.5,1577)(46.85,1395)(48.19,1236)(49.54,1122)(50.88,985)(52.23,917)(53.57,803)(55.37,620)(57.16,393)(58.96,210)(60.75,51)(61.65,-41)};
\addplot[only marks, mark=*, mark size=1.4pt, black] coordinates {(35.56,3177)};
\end{axis}
\begin{axis}[P, at={(31pt,-587pt)}, height=128pt, xmax=62.78, ymin=250, ymax=927,
 axis x line=none, axis y line*=right, y axis line style={precb, line width=0.6pt},
 ytick={250,550,850}, yticklabels={{},550,850}, ytick style={precb},
 yticklabel style={rotate=90, anchor=south, font=\fs{8.3}, text=precb}]
\addplot[name path=pdU, draw=none] coordinates {(0,334)(18.59,343)(32.05,365)(39.22,418)(43.26,515)(47.74,638)(52.23,735)(55.37,814)(58.06,858)(60.97,867)(62.78,867)};
\addplot[name path=pdL, draw=none] coordinates {(0,312)(18.59,316)(32.05,325)(39.22,338)(43.26,382)(47.74,453)(52.23,550)(55.37,647)(58.06,753)(60.97,841)(62.78,841)};
\addplot[fill=bandc, fill opacity=0.65, draw=none] fill between[of=pdU and pdL];
\addplot[precb, line width=1pt] coordinates {(0,321)(9.63,325)(18.59,329)(27.56,334)(32.05,343)(36.53,360)(39.22,382)(41.02,409)(43.26,453)(45.5,506)(47.74,559)(49.98,603)(52.23,647)(54.47,700)(56.26,770)(58.06,814)(59.85,841)(60.97,850)};
\end{axis}
\begin{axis}[P, at={(31pt,-587pt)}, height=128pt, xmax=62.78, ymin=0, ymax=2032,
 axis x line=none, axis y line*=right, y axis line style={draw=none},
 ytick={10,350,780}, yticklabels={{},350,780}, ytick style={relred},
 yticklabel style={rotate=90, anchor=north, font=\fs{8.3}, text=relred}]
\addplot[relred, line width=0.6pt] coordinates {(0,185)(1,160)(2.0,145)(3.1,135)(4.25,119)(5,100)(5.81,79)(6.6,95)(7.38,106)(8,125)(8.73,132)(9.2,150)(9.63,159)(10.1,150)(10.52,145)(11,210)(11.42,291)(12.1,350)(12.77,397)(13.4,420)(14.11,437)(14.8,425)(15.46,410)(16.3,380)(17.25,344)(18.1,300)(19.04,265)(19.9,240)(20.84,212)(21.5,205)(22.18,212)(22.9,250)(23.53,291)(24.2,360)(24.87,423)(25.3,470)(25.77,489)(26.4,470)(27.11,463)(27.8,520)(28.46,582)(29,640)(29.58,661)(30.1,640)(30.7,582)(31.1,500)(31.6,423)(32.2,470)(32.94,503)(33.6,500)(34.29,476)(35,420)(35.63,370)(36.5,340)(37.43,318)(38.1,250)(38.77,185)(39.2,240)(39.67,291)(40.3,380)(41.02,450)(41.7,510)(42.36,556)(42.8,570)(43.26,582)(43.9,600)(44.6,609)(45.3,570)(45.95,542)(46.6,600)(47.29,661)(47.9,630)(48.64,609)(49.3,590)(49.98,582)(50.6,520)(51.33,476)(52,560)(52.68,701)(53.3,600)(54.02,503)(54.7,470)(55.37,450)(56,410)(56.71,370)(57.4,300)(58.06,238)(59,210)(59.85,185)(60.7,160)(61.65,132)(62.2,100)(62.78,79)};
\end{axis}
%================ PANEL D : sub =================
\begin{axis}[P, Sub, at={(31pt,-715pt)}, height=35.5pt, xmax=62.78, ymin=-0.15, ymax=1.033,
 xtick={0,15,30,45,60}, xticklabels={0,15,30,45,60}]
\gbar{0}{11.06}{-0.15}{0}{geoUnc}
\gbar{11.06}{45.6}{-0.15}{0}{geoAnd}
\gbar{45.6}{60.9}{-0.15}{0}{geoVolcG}
\gbar{60.9}{62.78}{-0.15}{0}{geoUnc}
\addplot[black, dashed, line width=0.4pt] coordinates {(0,0.5)(62.78,0.5)};
\addplot[thio, line width=0.55pt] coordinates {(0,0.339)(0.5,0.3)(1.11,0.256)(2,0.33)(2.9,0.311)(4,0.38)(5.14,0.422)(5.8,0.38)(6.49,0.339)(7.4,0.4)(8.28,0.367)(9,0.42)(9.63,0.45)(10.3,0.4)(10.97,0.422)(11.6,0.36)(12.32,0.367)(13.2,0.47)(14.11,0.533)(14.6,0.6)(15.01,0.589)(15.9,0.64)(16.8,0.672)(17.5,0.7)(18.14,0.728)(18.6,0.7)(19.04,0.783)(19.7,0.7)(20.39,0.672)(21,0.62)(21.73,0.589)(22.4,0.54)(23.08,0.506)(23.7,0.56)(24.42,0.533)(25.1,0.6)(25.77,0.589)(26.7,0.56)(27.56,0.617)(28.4,0.56)(29.36,0.533)(30.2,0.5)(31.15,0.478)(31.8,0.46)(32.49,0.422)(33.2,0.5)(33.84,0.561)(34.5,0.6)(35.19,0.644)(35.9,0.62)(36.53,0.672)(37.2,0.63)(37.88,0.617)(38.5,0.5)(39.22,0.394)(39.9,0.42)(40.57,0.45)(41.2,0.5)(41.91,0.45)(42.6,0.5)(43.26,0.533)(43.9,0.6)(44.6,0.756)(45,0.6)(45.5,0.394)(46.2,0.44)(46.85,0.478)(47.5,0.42)(48.19,0.45)(48.6,0.55)(49.09,0.589)(49.8,0.5)(50.43,0.422)(50.9,0.6)(51.33,0.756)(52,0.5)(52.68,0.367)(53.3,0.42)(54.02,0.478)(54.7,0.43)(55.37,0.394)(56,0.45)(56.71,0.506)(57.4,0.45)(58.06,0.394)(58.5,0.47)(58.96,0.533)(59.4,0.4)(59.85,0.256)(60.3,0.22)(60.75,0.2)(61.1,0.4)(61.42,0.644)(61.8,0.5)(62.1,0.367)(62.78,0.394)};
\end{axis}
\begin{axis}[P, KS, at={(31pt,-715pt)}, height=35.5pt, xmax=62.78, ymin=-51.9, ymax=357.8,
 ytick={0,100,200,300}, yticklabels={0,100,200,300}]
\addplot[ksnqc, line width=1.1pt] coordinates {(0,59)(2.9,69)(5.14,50)(9.63,69)(14.11,59)(18.59,50)(21.28,59)(23.98,127)(26.67,127)(29.81,108)(32.05,108)(34.74,79)(36.53,88)(38.77,136)(40.57,185)(43.26,194)(45.5,185)(47.74,185)(49.98,175)(52.68,194)(55.37,156)(58.96,108)(62.78,69)};
\addplot[ksng, line width=1.1pt] coordinates {(0,108)(1.55,108)(2.9,117)(5.14,79)(6.94,108)(8.73,136)(10.52,136)(12.77,156)(15.01,117)(18.59,117)(20.39,98)(21.73,136)(23.08,185)(25.32,223)(27.11,214)(28.46,185)(30.25,175)(32.05,175)(34.29,156)(35.63,127)(37.43,185)(39.22,300)(40.57,338)(41.91,310)(43.71,300)(45.5,300)(46.85,319)(48.64,290)(50.43,271)(52.23,290)(53.57,310)(55.37,271)(56.71,233)(58.06,204)(59.4,165)(61.2,108)(62.78,85)};
\end{axis}
%================ ANNOTATIONS =================
\foreach \L/\Y in {a/-17pt, b/-224.5pt, c/-407pt, d/-587pt}{
 \node[draw=black, line width=0.5pt, fill=white, minimum width=12.5pt, minimum height=12.5pt, inner sep=0pt, font=\fs{15}] at (12.5pt,\Y) {\L};}
\foreach \Y in {-103.5pt,-283.5pt,-462.5pt,-644pt}{
 \node[rotate=90, font=\fs{10.4}] at (11.3pt,\Y) {Elevation (m.a.s.l.)};}
\node[rotate=90, anchor=south east, font=\fs{9}] at (29pt,-26.5pt) {3300};
\node[rotate=90, anchor=south east, font=\fs{8.3}] at (29pt,-225.5pt) {2100};
\node[rotate=90, anchor=south west, font=\fs{8.3}] at (29pt,-352.5pt) {-100};
\node[rotate=90, anchor=south west, font=\fs{8.3}] at (29pt,-526pt) {-200};
\node[rotate=90, anchor=south east, font=\fs{8.3}] at (29pt,-587pt) {3300};
\node[rotate=90, anchor=south west, font=\fs{8.3}] at (29pt,-713pt) {-200};
\node[rotate=90, anchor=north west, font=\fs{8.3}, text=relred] at (541pt,-352.5pt) {10};
\node[rotate=90, anchor=north west, font=\fs{8.3}, text=relred] at (541pt,-533.5pt) {10};
\node[rotate=90, anchor=north west, font=\fs{8.3}, text=relred] at (541pt,-715pt) {10};
\node[rotate=90, anchor=south west, font=\fs{8.3}, text=precb] at (538.5pt,-352pt) {350};
\node[rotate=90, anchor=south west, font=\fs{8.3}, text=precb] at (538.5pt,-532.5pt) {300};
\node[rotate=90, anchor=south west, font=\fs{8.3}, text=precb] at (538.5pt,-714pt) {250};
\draw[relred, line width=0.7pt] (539.5pt,-352.5pt) -- (539.5pt,-291pt);
\draw[relred, line width=0.7pt] (539.5pt,-533.5pt) -- (539.5pt,-454pt);
\draw[relred, line width=0.7pt] (539.5pt,-715pt) -- (539.5pt,-660pt);
% panel a: top brackets
\draw[frame, line width=0.6pt] (34.5pt,-14pt) -- (255pt,-14pt) (34.5pt,-11.5pt) -- (34.5pt,-16.5pt) (255pt,-11.5pt) -- (255pt,-16.5pt);
\draw[frame, line width=0.6pt] (261pt,-14pt) -- (417.5pt,-14pt) (261pt,-11.5pt) -- (261pt,-16.5pt) (417.5pt,-11.5pt) -- (417.5pt,-16.5pt);
\draw[frame, line width=0.6pt] (421.5pt,-14pt) -- (540pt,-14pt) (421.5pt,-11.5pt) -- (421.5pt,-16.5pt) (540pt,-11.5pt) -- (540pt,-16.5pt);
\node[anchor=south, font=\fs{8.5}] at (144pt,-13pt) {Northern Talesh Mountains};
\node[anchor=south, font=\fs{8.5}] at (340pt,-13pt) {Central Talesh Mountains};
\node[anchor=south, font=\fs{8.5}] at (480.5pt,-13pt) {Southern Talesh Mountains};
\node[anchor=north west, fill=gray!40, inner sep=1pt, font=\fs{9}] at (31.5pt,-21pt) {NW};
\node[anchor=north east, fill=gray!40, inner sep=1pt, font=\fs{9}] at (539.3pt,-21pt) {SE};
\node[anchor=north west, fill=gray!40, inner sep=1pt, font=\fs{9}] at (31.5pt,-226.3pt) {SW};
\node[anchor=north east, fill=gray!40, inner sep=1pt, font=\fs{9}] at (539.3pt,-226.3pt) {NE};
\node[anchor=north west, fill=gray!40, inner sep=1pt, font=\fs{9}] at (31.5pt,-407.3pt) {WSW};
\node[anchor=north east, fill=gray!40, inner sep=1pt, font=\fs{9}] at (539.3pt,-407.3pt) {ENE};
\node[anchor=north west, fill=gray!40, inner sep=1pt, font=\fs{9}] at (31.5pt,-587.8pt) {WNW};
\node[anchor=north east, fill=gray!40, inner sep=1pt, font=\fs{9}] at (539.3pt,-587.8pt) {ESE};
% panel a legend
\node[anchor=west, font=\seriffont\fs{9.5}] at (36pt,-37pt) {Profiles};
\draw[thio, line width=0.6pt] (34.5pt,-49pt) -- (61.5pt,-49pt);
\draw[daig, line width=0.8pt] (34.5pt,-58.5pt) -- (61.5pt,-58.5pt);
\draw[qgray, line width=0.6pt] (34.5pt,-68pt) -- (61.5pt,-68pt);
\draw[black, line width=0.8pt] (34.5pt,-77pt) -- (61.5pt,-77pt);
\draw[relred, line width=0.8pt] (34.5pt,-86.5pt) -- (61.5pt,-86.5pt);
\node[anchor=west, font=\fs{6.7}] at (64pt,-49pt) {Enhanced transverse hypsometric integral};
\node[anchor=west, font=\fs{6.7}] at (64pt,-58.5pt) {Divide asymmetry index};
\node[anchor=west, font=\fs{6.7}] at (64pt,-68pt) {Quartile (Q1 - Q3)};
\node[anchor=west, font=\fs{6.7}] at (64pt,-77pt) {Mean};
\node[anchor=west, font=\fs{6.7}] at (64pt,-86.5pt) {Relief};
% panel a annotations
\node[anchor=west, font=\fs{8}] at (33pt,-111.5pt) {Angut Fault};
\draw[frame, line width=0.6pt] (270.5pt,-53.5pt) -- (405pt,-53.5pt) (270.5pt,-51pt) -- (270.5pt,-56pt) (405pt,-51pt) -- (405pt,-56pt);
\node[anchor=south, font=\fs{8.5}] at (339pt,-52.5pt) {Wind Gap};
\node[font=\fs{8.2}] at (496.5pt,-64pt) {MD Fault};
\node[font=\symfont\fs{9}] at (473pt,-102.5pt) {⊗};
\node[font=\symfont\fs{9}] at (485.5pt,-102.5pt) {⊙};
\draw[flt] (64pt,-161.5pt) .. controls (57pt,-148pt) .. (53.5pt,-128pt);
\draw[fltd] (51pt,-128pt) -- (51pt,-117pt);
\draw[fltar] (55pt,-128pt) -- (56pt,-115pt);
\draw[flt] (486.3pt,-114pt) .. controls (477pt,-100pt) .. (474pt,-84pt);
\draw[fltd] (471.5pt,-84pt) -- (471.5pt,-71pt);
\draw[fltar] (475.5pt,-84pt) -- (477.5pt,-70pt);
\draw[flt] (524.5pt,-116pt) .. controls (514pt,-100pt) .. (512pt,-84pt);
\draw[fltd] (509.5pt,-84pt) -- (509.5pt,-73pt);
\draw[fltar] (513.5pt,-84pt) -- (515.5pt,-74pt);
\node[rotate=90, text=daig, font=\fs{8.6}] at (558.5pt,-66pt) {DAI};
\node[rotate=90, text=relred, font=\fs{8.6}] at (558.5pt,-115pt) {Local relief (m)};
\node[rotate=90, text=thio, font=\fs{8.6}] at (558.5pt,-181pt) {THI*};
% panel b annotations
\node[anchor=west, font=\fs{7.4}] at (140pt,-229.5pt) {Divide point};
\node[font=\fs{9.2}] at (280.5pt,-233.5pt) {Northern Talesh Mountains};
\node[font=\fs{8.6}] at (82.5pt,-256pt) {Interior of the plateau};
\node[font=\fs{8.6}] at (422.5pt,-257.5pt) {Exterior of the plateau};
\node[anchor=west, font=\fs{7.3}] at (341.5pt,-291.5pt) {Ojagh-Gheshlagh Ant.};
\node[anchor=west, font=\fs{7.4}] at (466pt,-321pt) {Talesh Fault};
\node[anchor=west, font=\fs{7.6}] at (499.5pt,-338.5pt) {Kura Basin};
\draw[flt] (307pt,-346pt) .. controls (316pt,-322pt) .. (328.5pt,-306pt);
\draw[fltd] (326.5pt,-306pt) -- (330pt,-291pt);
\draw[fltar] (330.5pt,-306pt) -- (333.5pt,-289pt);
\draw[flt] (381.5pt,-349pt) .. controls (386pt,-338pt) .. (394pt,-329pt);
\draw[fltd] (392.5pt,-329pt) -- (395.5pt,-317pt);
\draw[fltar] (396pt,-329pt) -- (398.5pt,-316pt);
\draw[flt] (481pt,-351.5pt) .. controls (483pt,-343pt) .. (488.5pt,-334pt);
\draw[fltd] (487pt,-334pt) -- (489.5pt,-328pt);
\draw[fltar] (490pt,-334pt) -- (492.5pt,-327pt);
\node[rotate=90, align=center, text=precb, font=\fontsize{8.3}{9.5}\selectfont] at (554pt,-257.5pt) {Precipitation\\(mm.yr\textsuperscript{−1})};
\node[rotate=90, text=relred, font=\fs{8}] at (559.5pt,-329pt) {Local relief (m)};
\node[rotate=90, text=thio, font=\fs{8.3}] at (559.5pt,-367.5pt) {THI*};
% panel c annotations
\node[anchor=west, font=\fs{7.4}] at (272.5pt,-413.5pt) {Divide point};
\node[font=\fs{9.1}] at (354pt,-428.5pt) {Central Talesh Mountains};
\node[font=\fs{8}] at (80pt,-430.5pt) {Ardebil Basin};
\node[anchor=west, font=\fs{7.4}] at (454pt,-493.5pt) {Talesh Fault};
\draw[flt] (327pt,-525pt) .. controls (337pt,-500pt) .. (350.5pt,-479pt);
\draw[fltd] (349pt,-479pt) -- (350.5pt,-467pt);
\draw[fltar] (352pt,-479pt) -- (353.5pt,-466pt);
\draw[flt] (450.5pt,-531.5pt) .. controls (456pt,-523pt) .. (465pt,-512.5pt);
\draw[fltd] (463.5pt,-512.5pt) -- (466pt,-502pt);
\draw[fltar] (466.5pt,-512.5pt) -- (469pt,-500.5pt);
\node[rotate=90, align=center, text=precb, font=\fontsize{8.3}{9.5}\selectfont] at (558.5pt,-427.5pt) {Precipitation\\(mm.yr\textsuperscript{−1})};
\node[rotate=90, text=relred, font=\fs{8}] at (560pt,-490pt) {Local relief (m)};
\node[rotate=90, text=thio, font=\fs{8.3}] at (559.5pt,-553pt) {THI*};
% panel d annotations
\node[font=\fs{9.2}] at (239.5pt,-594pt) {Southern Talesh Mountains};
\node[anchor=west, font=\fs{7.4}] at (324pt,-592pt) {Divide point};
\node[font=\fs{8}] at (80pt,-641.5pt) {Ardebil Basin};
\node[font=\fs{7.5}] at (90.5pt,-685pt) {West of Talesh Fault};
\node[font=\fs{7.6}] at (260.5pt,-666.5pt) {MD Fault};
\node[font=\fs{7.5}] at (452pt,-636.5pt) {BD Fault};
\node[font=\fs{7.4}] at (516.5pt,-673.5pt) {Talesh Fault};
\draw[line width=1.1pt, dash pattern=on 5pt off 2pt] (119pt,-646.5pt) .. controls (124pt,-665pt) .. (130.75pt,-686pt);
\draw[flt] (243.35pt,-678.5pt) .. controls (232pt,-660pt) .. (230.5pt,-640pt);
\draw[fltd] (228.5pt,-640pt) -- (228.5pt,-622pt);
\draw[fltar] (231.5pt,-640pt) -- (232pt,-621pt);
\draw[flt] (294pt,-656.5pt) .. controls (285pt,-635pt) .. (283.3pt,-613.5pt);
\draw[fltd] (281.3pt,-613.5pt) -- (281.3pt,-600pt);
\draw[fltar] (284.3pt,-613.5pt) -- (285pt,-600pt);
\draw[flt] (462pt,-711.5pt) .. controls (452pt,-690pt) .. (450.4pt,-670pt);
\draw[fltd] (448.4pt,-670pt) -- (448.4pt,-655pt);
\draw[fltar] (451.4pt,-670pt) -- (452pt,-655pt);
\draw[flt] (519.5pt,-713.5pt) .. controls (523pt,-705pt) .. (528.5pt,-696.5pt);
\draw[fltd] (527pt,-696.5pt) -- (530.5pt,-684pt);
\draw[fltar] (530pt,-696.5pt) -- (534pt,-683.5pt);
\node[rotate=90, align=center, text=precb, font=\fontsize{8.3}{9.5}\selectfont] at (554pt,-625pt) {Precipitation\\(mm.yr\textsuperscript{−1})};
\node[rotate=90, text=relred, font=\fs{8}] at (559.5pt,-688.5pt) {Local relief (m)};
\node[rotate=90, text=thio, font=\fs{8.3}] at (559.5pt,-732.5pt) {THI*};
% ksn legends b, c, d
\foreach \Y in {-301pt,-474pt,-604pt}{
 \draw[ksng, line width=0.8pt] (45.5pt,\Y) -- (71.5pt,\Y);
 \node[anchor=west, font=\fs{6.7}] at (74pt,\Y) {Mean ksn};}
\foreach \Y in {-310.5pt,-483pt,-613.5pt}{
 \draw[ksnqc, line width=0.8pt] (45.5pt,\Y) -- (71.5pt,\Y);
 \node[anchor=west, font=\fs{6.7}] at (74pt,\Y) {Mean ksnQ};}
\foreach \Y in {-319pt,-492pt,-622pt}{
 \draw[precb, line width=0.8pt] (45.5pt,\Y) -- (71.5pt,\Y);
 \node[anchor=west, font=\fs{6.7}] at (74pt,\Y) {Mean annual rainfall};}
\foreach \Y in {-367.5pt,-550pt,-731pt}{
 \node[rotate=90, text=ksng, font=\fs{10}] at (9pt,\Y) {\textit{k}\textsubscript{\textit{sn}}};}
\node[text=ksng, font=\itshape\fs{6.8}] at (212.5pt,-357.5pt) {ksn};
\node[text=ksnqc, font=\itshape\fs{6.8}] at (214.5pt,-376pt) {ksnQ};
\node[text=ksng, font=\itshape\fs{6.8}] at (279.5pt,-539pt) {ksn};
\node[text=ksnqc, font=\itshape\fs{6.8}] at (303.5pt,-543.5pt) {ksnQ};
\node[text=ksng, font=\itshape\fs{6.8}] at (190.5pt,-735pt) {ksn};
\node[text=ksnqc, font=\itshape\fs{6.8}] at (214.5pt,-742.5pt) {ksnQ};
\node[font=\fs{10.3}] at (297pt,-768.5pt) {Distance along sawth (km)};
% geology legend
\fill[gray!17] (27.5pt,-775pt) rectangle (554pt,-803pt);
\filldraw[fill=geoVolcG, draw=black!55, line width=0.3pt] (31.8pt,-780.8pt) rectangle (54.5pt,-784.2pt);
\filldraw[fill=geoLime, draw=black!55, line width=0.3pt] (31.8pt,-794.8pt) rectangle (54.5pt,-798.2pt);
\filldraw[fill=geoAnd, draw=black!55, line width=0.3pt] (127pt,-780.8pt) rectangle (151pt,-784.2pt);
\filldraw[fill=geoTuff, draw=black!55, line width=0.3pt] (127pt,-794.8pt) rectangle (151pt,-798.2pt);
\filldraw[fill=geoEOC, draw=black!55, line width=0.3pt] (219.3pt,-780.8pt) rectangle (242.85pt,-784.2pt);
\filldraw[fill=geoBas, draw=black!55, line width=0.3pt] (219.3pt,-794.8pt) rectangle (242.85pt,-798.2pt);
\filldraw[fill=geoTeal, draw=black!55, line width=0.3pt] (352.4pt,-780.8pt) rectangle (375.2pt,-784.2pt);
\filldraw[fill=geoOlig, draw=black!55, line width=0.3pt] (352.4pt,-794.8pt) rectangle (375.2pt,-798.2pt);
\filldraw[fill=geoUnc, draw=black!55, line width=0.3pt] (436pt,-780.8pt) rectangle (459pt,-784.2pt);
\node[anchor=west, font=\fs{7.4}] at (58.5pt,-782.5pt) {Volcaniclastic};
\node[anchor=west, font=\fs{7.4}] at (58.5pt,-796.5pt) {Limestone};
\node[anchor=west, font=\fs{7.4}] at (155.5pt,-782.5pt) {Andesite};
\node[anchor=west, font=\fs{7.4}] at (155.5pt,-796.5pt) {Andesitic tuff};
\node[anchor=west, font=\fs{7.4}] at (246pt,-782.5pt) {Volcaniclastic, clastic rocks};
\node[anchor=west, font=\fs{7.4}] at (246pt,-796.5pt) {Basaltic lava {\fs{6}(Late Eocene)}};
\node[anchor=west, font=\fs{7.4}] at (378.9pt,-782.5pt) {Volcaniclastic};
\node[anchor=west, font=\fs{7.4}] at (378.9pt,-796.5pt) {Volcaniclastic, clastic rocks \ {\fs{6}(Oligo-Miocene)}};
\node[anchor=west, font=\fs{7.4}] at (461.8pt,-782.5pt) {Unconsolidated deposits};
\draw[densely dotted, line width=0.5pt] (111.25pt,-777pt) -- (111.25pt,-803pt);
\draw[densely dotted, line width=0.5pt] (205.35pt,-777pt) -- (205.35pt,-803pt);
\node[rotate=-90, font=\fs{7.4}] at (116.5pt,-790pt) {CRE.};
\node[rotate=-90, font=\fs{7.4}] at (210.8pt,-790pt) {EOC.};
\pgfresetboundingbox
\path[use as bounding box] (0pt,0pt) rectangle (569.5pt,-803pt);
\end{tikzpicture}
\end{document}
